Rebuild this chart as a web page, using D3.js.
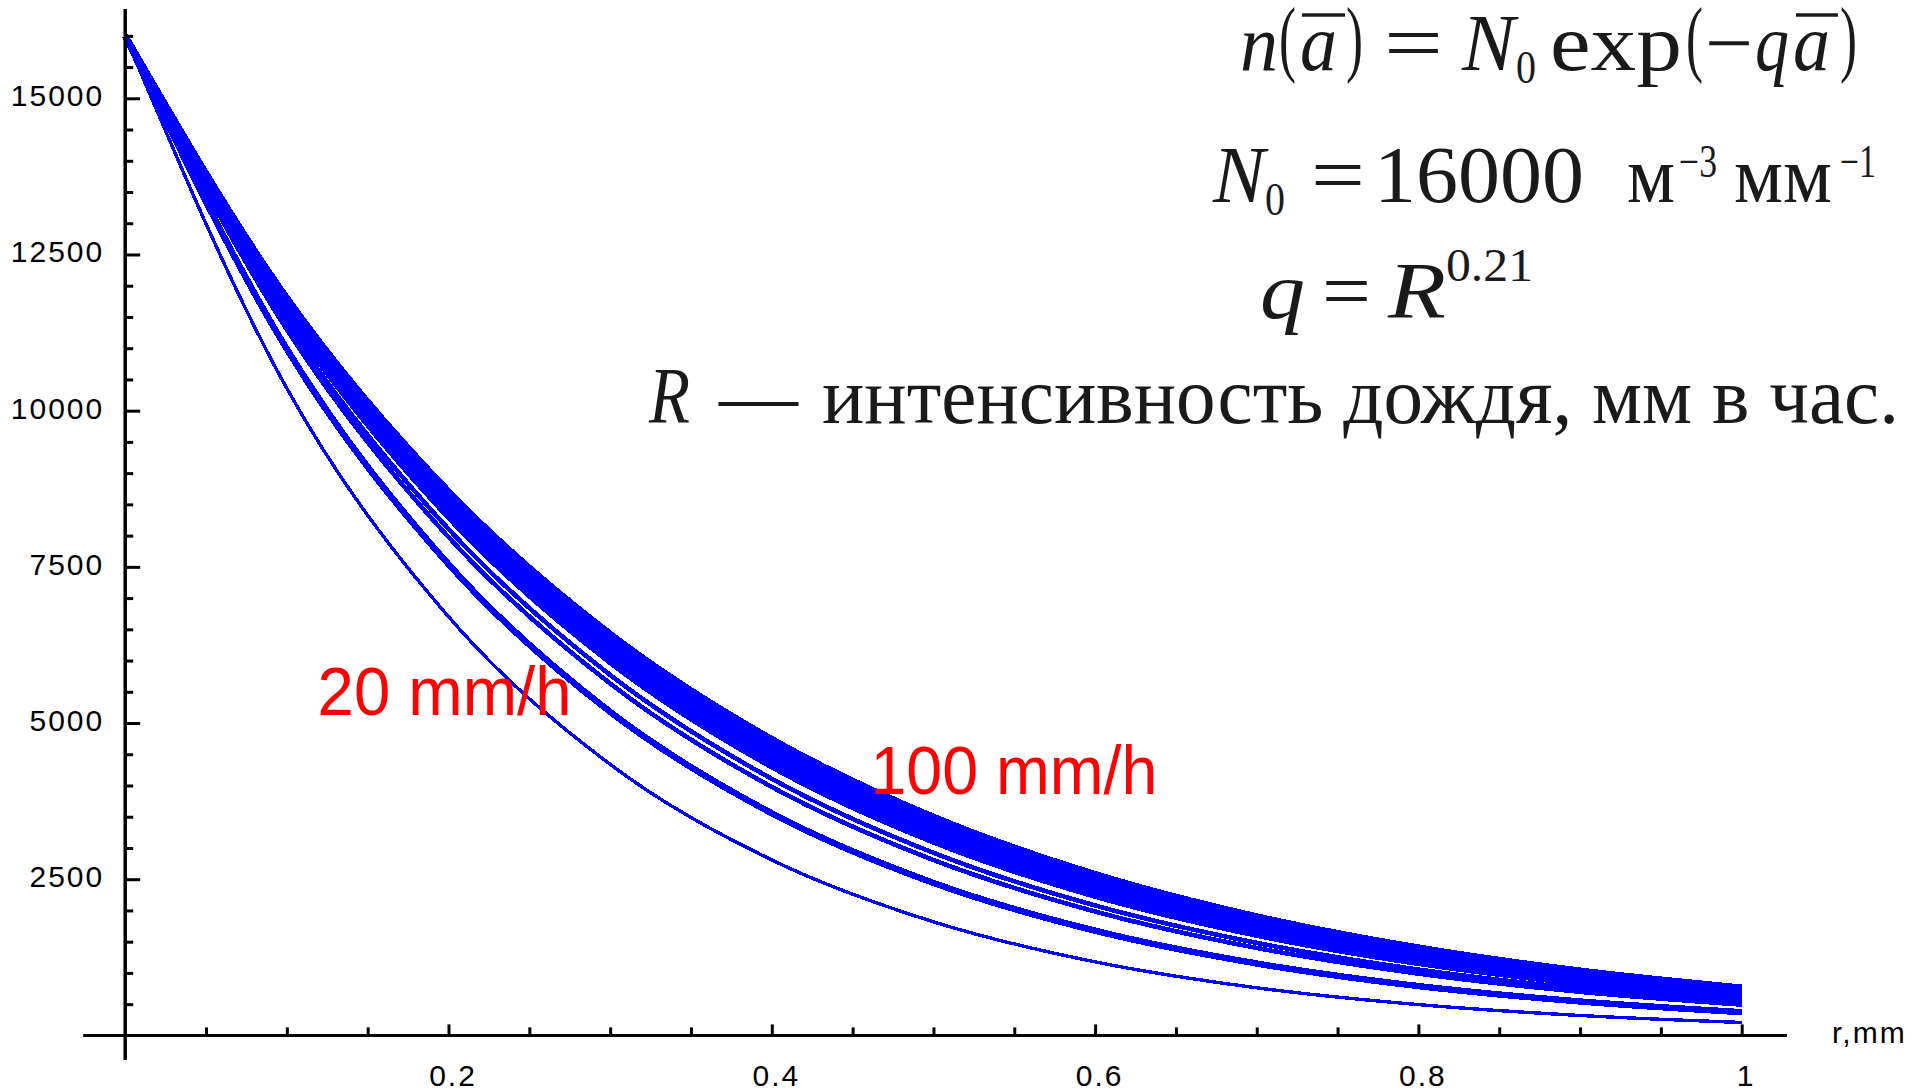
<!DOCTYPE html>
<html><head><meta charset="utf-8">
<script src="https://cdn.jsdelivr.net/npm/d3@7"></script>
<style>html,body{margin:0;padding:0;background:#fff;overflow:hidden}svg{display:block}</style>
</head><body>
<svg id="chart" width="1915" height="1091"></svg>
<script>
// ---- data ----
const rValues = [0, 0.1, 0.2, 0.3, 0.4, 0.5, 0.6, 0.7, 0.8, 0.9, 1.0];
const curveLow   = [16000, 10356, 6703, 4339, 2808, 1818, 1177, 762, 493, 319, 207];
const curveB     = [16000, 10986, 7543, 5179, 3556, 2441, 1676, 1151, 790, 543, 372];
const curveC     = [16000, 11298, 7977, 5633, 3977, 2808, 1983, 1400, 989, 698, 493];
const curveD     = [16000, 11388, 8106, 5770, 4107, 2923, 2080, 1481, 1054, 750, 534];
const curveBand1 = [16000, 11526, 8303, 5981, 4308, 3104, 2236, 1611, 1160, 836, 602];
const curveBand2 = [16000, 11595, 8403, 6090, 4413, 3198, 2318, 1680, 1217, 882, 639];
const curveBand3 = [16000, 11665, 8504, 6200, 4520, 3296, 2403, 1752, 1277, 931, 679];
const curveBand4 = [16000, 11735, 8607, 6313, 4630, 3396, 2491, 1827, 1340, 983, 721];
const curveBand5 = [16000, 11806, 8711, 6428, 4743, 3499, 2582, 1905, 1406, 1037, 765];
const seriesList = [curveLow, curveB, curveC, curveD, curveBand1, curveBand2, curveBand3, curveBand4, curveBand5];
const seriesWidth = [3.4, 6.4, 4.6, 4.6, 6.4, 6.4, 6.4, 6.4, 6.4];
const xMajorTicks = [0.2, 0.4, 0.6, 0.8, 1];
const xTickLabels = ["0.2", "0.4", "0.6", "0.8", "1"];
const yMajorTicks = [2500, 5000, 7500, 10000, 12500, 15000];
const yTickLabels = ["2500", "5000", "7500", "10000", "12500", "15000"];
const xAxisLabel = "r,mm";
const curveLabels = [{text: "20 mm/h", r: 0.119, v: 5130}, {text: "100 mm/h", r: 0.461, v: 3860}];

// ---- chart ----
const svg = d3.select("#chart");
const x = d3.scaleLinear().domain([0, 1]).range([125.2, 1741.7]);
const y = d3.scaleLinear().domain([0, 15000]).range([1035.4, 98.3]);
const font = "'Liberation Sans', Arial, sans-serif";

// curves
const line = d3.line().x((d, i) => x(rValues[i])).y(d => y(d)).curve(d3.curveMonotoneX);
svg.append("g").selectAll("path").data(seriesList).join("path")
  .attr("d", d => line(d)).attr("fill", "none").attr("stroke", "#0000ff")
  .attr("stroke-width", (d, i) => seriesWidth[i]).attr("stroke-linejoin", "round")
  .attr("shape-rendering", "crispEdges");

// x axis
const gx = svg.append("g").attr("transform", `translate(0,${y(0)})`);
gx.append("line").attr("x1", x(-0.026)).attr("x2", x(1.028)).attr("y1", 0).attr("y2", 0)
  .attr("stroke", "#000").attr("stroke-width", 3);
const xMinor = d3.range(1, 21).map(i => i * 0.05).filter(t => !xMajorTicks.some(m => Math.abs(m - t) < 1e-6));
gx.append("g").call(d3.axisBottom(x).tickValues(xMinor).tickSize(-8).tickFormat(""))
  .call(g => g.select(".domain").remove()).selectAll("line").attr("stroke-width", 3);
gx.append("g").call(d3.axisBottom(x).tickValues(xMajorTicks).tickSize(-11).tickPadding(29)
    .tickFormat((d, i) => xTickLabels[i]))
  .call(g => g.select(".domain").remove())
  .call(g => g.selectAll("line").attr("stroke-width", 3))
  .call(g => g.selectAll("text").attr("font-family", font).attr("font-size", 30)
    .attr("letter-spacing", "2px").attr("fill", "#000").attr("dx", 4));

// y axis
const gy = svg.append("g").attr("transform", `translate(${x(0)},0)`);
gy.append("line").attr("x1", 0).attr("x2", 0).attr("y1", y(16430)).attr("y2", y(-395))
  .attr("stroke", "#000").attr("stroke-width", 3.5);
const yMinor = d3.range(1, 33).map(i => i * 500).filter(t => t % 2500 !== 0);
gy.append("g").call(d3.axisLeft(y).tickValues(yMinor).tickSize(-8).tickFormat(""))
  .call(g => g.select(".domain").remove()).selectAll("line").attr("stroke-width", 3);
gy.append("g").call(d3.axisLeft(y).tickValues(yMajorTicks).tickSize(-15).tickPadding(21)
    .tickFormat((d, i) => yTickLabels[i]))
  .call(g => g.select(".domain").remove())
  .call(g => g.selectAll("line").attr("stroke-width", 3))
  .call(g => g.selectAll("text").attr("font-family", font).attr("font-size", 30)
    .attr("letter-spacing", "2px").attr("fill", "#000").attr("dy", "0.25em"));

svg.append("text").attr("x", 1832).attr("y", 1043).text(xAxisLabel)
  .attr("font-family", font).attr("font-size", 30).attr("letter-spacing", "2px").attr("fill", "#000");

// red labels
svg.selectAll("text.rl").data(curveLabels).join("text").attr("class", "rl")
  .attr("x", d => x(d.r)).attr("y", d => y(d.v)).text(d => d.text)
  .attr("font-family", font).attr("font-size", 68).attr("fill", "#ff0000")
  .attr("textLength", (d, i) => i === 0 ? 254 : 287).attr("lengthAdjust", "spacingAndGlyphs");

// formula text
const serif = "'Liberation Serif', 'Times New Roman', serif";
const ink = "#1a1a1a";
function put(t, px, py, size, italic, w) {
  const el = svg.append("text").attr("x", px).attr("y", py).text(t)
    .attr("font-family", serif).attr("font-size", size).attr("fill", ink)
    .attr("font-style", italic ? "italic" : "normal");
  if (w) el.attr("textLength", w).attr("lengthAdjust", "spacingAndGlyphs");
  return el;
}
function bar(x1, x2, yy) {
  svg.append("line").attr("x1", x1).attr("x2", x2).attr("y1", yy).attr("y2", yy)
    .attr("stroke", ink).attr("stroke-width", 3.5);
}
// line 1: n(ā) = N0 exp(−qā)
put("n", 1240, 70, 80, true, 38);
put("(", 1279, 66, 84, false, 17);
put("a", 1300, 70, 80, true, 37); bar(1302, 1345, 15);
put(")", 1346, 66, 84, false, 17);
put("=", 1384, 70, 80, false, 59);
put("N", 1462, 70, 80, true, 53);
put("0", 1516, 83, 46, false, 20);
put("exp", 1550, 70, 80, false, 132);
put("(", 1686, 66, 84, false, 17);
put("\u2212", 1705, 70, 80, false, 48);
put("q", 1755, 70, 80, true, 34);
put("a", 1793, 70, 80, true, 37); bar(1796, 1838, 15);
put(")", 1840, 66, 84, false, 17);
// line 2: N0 = 16000 м^-3 мм^-1
put("N", 1213, 202, 80, true, 52);
put("0", 1265, 215, 46, false, 20);
put("=", 1311, 202, 80, false, 54);
put("16000", 1374, 202, 80, false, 210);
put("м", 1627, 202, 80, false, 48);
put("\u22123", 1679, 177, 46, false, 38);
put("мм", 1734, 202, 80, false, 98);
put("\u22121", 1840, 177, 46, false, 36);
// line 3: q = R^0.21
put("q", 1260, 318, 80, true, 45);
put("=", 1322, 318, 80, false, 49);
put("R", 1388, 318, 80, true, 58);
put("0.21", 1446, 281, 46, false, 87);
// line 4
put("R", 649, 423, 80, true, 41);
put("\u2014", 719, 423, 80, false, 79);
put("интенсивность дождя, мм в час.", 822, 423, 80, false, 1077);
</script>
</body></html>
